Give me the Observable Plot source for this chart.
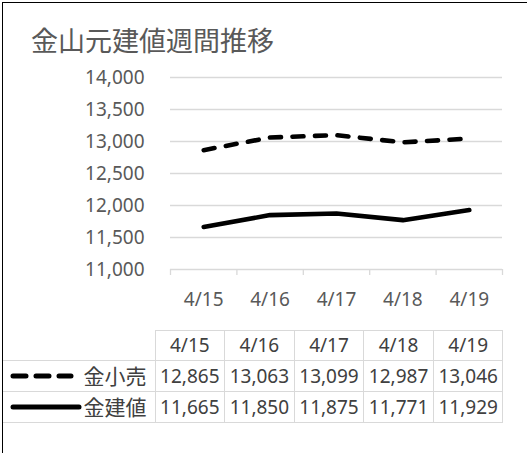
<!DOCTYPE html>
<html><head><meta charset="utf-8">
<script src="https://cdn.jsdelivr.net/npm/d3@7"></script>
<script src="https://cdn.jsdelivr.net/npm/@observablehq/plot@0.6"></script>
<style>
body{margin:0;background:#fff;width:527px;height:453px;overflow:hidden;position:relative;font-family:"Noto Sans","Noto Sans CJK JP",sans-serif;}
#frame{position:absolute;left:1.5px;top:2px;width:600px;height:600px;border-left:1.5px solid #000;border-top:1.5px solid #000;box-sizing:border-box;}
#title{position:absolute;left:31px;top:26px;font-size:27px;color:#595959;font-family:"Noto Sans CJK JP",sans-serif;line-height:1;white-space:nowrap;}
#chart{position:absolute;left:0;top:0;}
#tbl{position:absolute;left:3px;top:330px;border-collapse:collapse;table-layout:fixed;width:500px;color:#404040;font-size:19px;}
#tbl td{border:1px solid #d9d9d9;text-align:center;padding:0;white-space:nowrap;line-height:1.2;}
#tbl tr.h td{height:29px;}
#tbl tr.d td{height:30px;}
#tbl td.blank{border-top:none;border-left:none;}
#tbl td.lab{border-left:none;text-align:right;padding-right:8px;position:relative;font-family:"Noto Sans CJK JP",sans-serif;font-size:21px;}
#tbl td.lab svg{position:absolute;left:0;top:50%;transform:translateY(-50%);}
</style></head>
<body>
<div id="frame"></div>
<div id="chart"></div>
<div id="title"></div>
<table id="tbl"></table>
<script>
const titleText = "金山元建値週間推移";
const dates = ["4/15","4/16","4/17","4/18","4/19"];
const seriesNames = ["金小売","金建値"];
const retail = [12865,13063,13099,12987,13046];
const base = [11665,11850,11875,11771,11929];
const yTicks = [11000,11500,12000,12500,13000,13500,14000];

document.getElementById("title").textContent = titleText;
const fmt = d3.format(",");
const xi = (d,i) => i + 0.5;

const plot = Plot.plot({
  width: 527, height: 330,
  marginLeft: 170, marginRight: 25, marginTop: 77, marginBottom: 61,
  x: {type: "linear", domain: [0, dates.length], axis: null},
  y: {domain: [11000, 14000], axis: null},
  style: {fontFamily: '"Noto Sans","Noto Sans CJK JP",sans-serif', fontSize: "19px", color: "#595959", background: "transparent", overflow: "visible"},
  marks: [
    Plot.gridY(yTicks, {stroke: "#d9d9d9", strokeOpacity: 1, strokeWidth: 1.3}),
    Plot.axisY(yTicks, {tickSize: 0, tickPadding: 26, tickFormat: fmt, fill: "#595959", label: null}),
    Plot.axisX(d3.range(dates.length + 1), {tickSize: 6, tickFormat: () => "", stroke: "#d9d9d9", strokeWidth: 1.3, label: null}),
    Plot.text(dates, {x: xi, y: () => 11000, dy: 30, text: d => d, fill: "#595959", fontSize: 19}),
    Plot.line(retail, {x: xi, y: d => d, stroke: "#000", strokeWidth: 4.6, strokeDasharray: "11,11.5", strokeLinecap: "round", strokeLinejoin: "round"}),
    Plot.line(base, {x: xi, y: d => d, stroke: "#000", strokeWidth: 4.6, strokeLinecap: "round", strokeLinejoin: "round"})
  ]
});
document.getElementById("chart").appendChild(plot);

// data table
const tbl = document.getElementById("tbl");
let html = '<colgroup><col style="width:152px">' + dates.map(() => '<col style="width:69.6px">').join("") + '</colgroup>';
html += '<tr class="h"><td class="blank"></td>' + dates.map(d => `<td>${d}</td>`).join("") + '</tr>';
const keys = [
  '<svg width="80" height="10"><line x1="10" y1="5" x2="68" y2="5" stroke="#000" stroke-width="5" stroke-linecap="round" stroke-dasharray="13,10"/></svg>',
  '<svg width="80" height="10"><line x1="10" y1="5" x2="76" y2="5" stroke="#000" stroke-width="5" stroke-linecap="round"/></svg>'
];
[retail, base].forEach((vals, k) => {
  html += `<tr class="d"><td class="lab">${keys[k]}${seriesNames[k]}</td>` + vals.map(v => `<td>${fmt(v)}</td>`).join("") + '</tr>';
});
tbl.innerHTML = html;
</script>
</body></html>
